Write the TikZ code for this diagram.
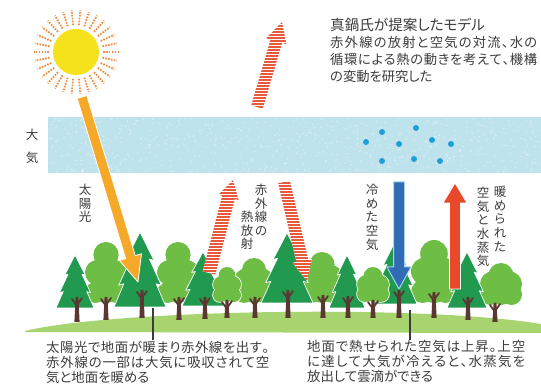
\documentclass[tikz,border=0pt]{standalone}
\usepackage{fontspec}
\setmainfont{Noto Sans CJK JP}[RawFeature=+palt]
\usetikzlibrary{calc}

\definecolor{inktext}{HTML}{3C3C3C}
\definecolor{aircol}{HTML}{BFE3EC}
\definecolor{vapour}{HTML}{1E9FD8}
\definecolor{sundisk}{HTML}{F6E21C}
\definecolor{sunrayc}{HTML}{F08A3C}
\definecolor{beamcol}{HTML}{F6A828}
\definecolor{irred}{HTML}{E8583A}
\definecolor{coldblue}{HTML}{2F6CB5}
\definecolor{coldedge}{HTML}{A4D6EE}
\definecolor{warmred}{HTML}{E9482A}
\definecolor{conifergreen}{HTML}{219A4F}
\definecolor{roundgreen}{HTML}{6EBE46}
\definecolor{barkcol}{HTML}{5A3730}
\definecolor{groundcol}{HTML}{A8D470}

% justified line of Japanese text: spread the characters over a fixed width
\makeatletter
\def\jspread#1{\jspread@#1\relax}
\def\jspread@#1{\ifx\relax#1\else#1\hfil\expandafter\jspread@\fi}
\makeatother
\newcommand\jline[2]{\hbox to #1{\jspread{#2}\unskip}}

% arrow outline from (name-start) to (name-tip)
\newcommand\arrowgeom[4]{%
  \coordinate (#1-h) at ($(#1-tip)!#4!(#1-start)$);
  \coordinate (#1-s1) at ($(#1-start)!#2!90:(#1-tip)$);
  \coordinate (#1-s2) at ($(#1-start)!#2!-90:(#1-tip)$);
  \coordinate (#1-b1) at ($(#1-h)!#2!90:(#1-tip)$);
  \coordinate (#1-b2) at ($(#1-h)!#2!-90:(#1-tip)$);
  \coordinate (#1-k1) at ($(#1-h)!#3!90:(#1-tip)$);
  \coordinate (#1-k2) at ($(#1-h)!#3!-90:(#1-tip)$);
}
\newcommand\arrowpoly[1]{(#1-s1) -- (#1-b1) -- (#1-k1) -- (#1-tip) -- (#1-k2) -- (#1-b2) -- (#1-s2) -- cycle}
% red/white striped infrared arrow: name, first stripe y, number of stripes
\newcommand\stripedarrow[3]{%
  \begin{scope}
    \clip \arrowpoly{#1};
    \fill[white] \arrowpoly{#1};
    \foreach \k [evaluate=\k as \yy using #2+3*\k] in {0,...,#3}
      \draw[irstripe] (150,\yy) -- (350,\yy);
  \end{scope}}
% conifer in three tiers: apex x, apex y, half width, height
\newcommand\conifer[4]{%
  \fill[coniferfill] (#1,#2)
    -- ({#1+0.54*#3},{#2+0.38*#4}) -- ({#1+0.36*#3},{#2+0.36*#4})
    -- ({#1+0.82*#3},{#2+0.71*#4}) -- ({#1+0.62*#3},{#2+0.69*#4})
    -- ({#1+#3},{#2+#4}) -- ({#1-#3},{#2+#4})
    -- ({#1-0.62*#3},{#2+0.69*#4}) -- ({#1-0.82*#3},{#2+0.71*#4})
    -- ({#1-0.36*#3},{#2+0.36*#4}) -- ({#1-0.54*#3},{#2+0.38*#4}) -- cycle;}
% rounded broadleaf crown: centre x, top, width, bottom, padding
\newcommand\roundblob[5]{%
  (#1,{#2+0.3*#3}) circle ({0.3*#3+#5})
  ({#1-0.2*#3},{(#2+#4)/2}) circle ({0.3*#3+#5})
  ({#1+0.2*#3},{(#2+#4)/2}) circle ({0.3*#3+#5})
  ({#1-0.25*#3},{#4-0.25*#3}) circle ({0.25*#3+#5})
  ({#1+0.25*#3},{#4-0.25*#3}) circle ({0.25*#3+#5})
  (#1,{#4-0.3*#3}) circle ({0.3*#3+#5})}
\newcommand\roundtree[4]{%
  \fill[white] \roundblob{#1}{#2}{#3}{#4}{0.8};
  \fill[roundgreen] \roundblob{#1}{#2}{#3}{#4}{0};}
% trunk with forked top: x, top, bottom
\newcommand\trunk[3]{%
  \fill[barkcol] ({#1-2.6},#3) -- ({#1-1.4},#2) -- ({#1+1.4},#2) -- ({#1+2.6},#3) -- cycle;
  \draw[branch] (#1,{#2+9}) -- ({#1-5},{#2+2});
  \draw[branch] (#1,{#2+8}) -- ({#1+5},{#2+1});}

\begin{document}
\begin{tikzpicture}[x=1pt,y=-1pt,
  vlabel/.style={font=\fontsize{12.5}{13.7}\selectfont, text=inktext, align=center, inner sep=0pt, anchor=north},
  note/.style={font=\fontsize{13.4}{15}\selectfont, text=inktext, align=left, inner sep=0pt, anchor=north west},
  irstripe/.style={draw=irred, line width=1.9pt},
  coniferfill/.style={fill=conifergreen, draw=white, line width=0.7pt, line join=round},
  branch/.style={draw=barkcol, line width=1.8pt, line cap=round},
  sunray/.style={draw=sunrayc, line width=1.8pt, dash pattern=on 1.6pt off 1.3pt},
  callout/.style={draw=inktext, line width=1.4pt}]
\useasboundingbox (0,0) rectangle (541,387);
\fill[white] (0,0) rectangle (541,387);

% atmosphere layer with a grainy texture and water vapour
\fill[aircol] (48,117) rectangle (541,173);
\pgfmathsetseed{42}
\foreach \i in {1,...,700}{
  \pgfmathsetmacro\gx{49+491*rnd}
  \pgfmathsetmacro\gy{118+54*rnd}
  \fill[white, opacity=0.45] (\gx,\gy) circle (0.75);}
\node[font=\fontsize{12.5}{23}\selectfont, text=inktext, align=center, inner sep=0pt, anchor=north] (atmo) at (32,128.5) {大\\気};
\foreach \p in {(366,142),(382,132),(399,144),(416,128),(432,140),(451,144),(382,161),(414,159),(440,161)}
  \fill[vapour] \p circle (3);

% sun
\coordinate (sunc) at (76,52);
\foreach \a in {0,12,...,348} \draw[sunray] ($(sunc)+(\a:27)$) -- ($(sunc)+(\a:42)$);
\fill[sundisk] (sunc) circle (23);

% ground and forest
\fill[groundcol] (25,331) .. controls (110,310) and (420,304) .. (541,324) -- (541,333) -- (25,332) -- cycle;
\roundtree{106}{242}{42}{303}
\roundtree{178}{242}{42}{303}
\roundtree{254}{258}{40}{303}
\roundtree{322}{252}{42}{303}
\roundtree{434}{240}{46}{303}
\roundtree{501}{263}{42}{305}
\conifer{75}{255}{19}{53}
\conifer{140}{232}{26}{75}
\conifer{203}{252}{21}{54}
\conifer{287}{233}{26}{70}
\conifer{347}{255}{18}{53}
\conifer{395}{242}{22}{62}
\conifer{467}{252}{20}{56}
\roundtree{227}{267}{28}{302}
\roundtree{373}{267}{32}{302}
\foreach \tx/\ttop/\tbot in {77/297/322,106/297/320,142/290/318,179/297/320,205/297/319,227/300/318,255/297/318,288/290/318,323/295/318,348/296/318,373/300/318,399/290/318,434/292/318,468/297/320,495/303/322}
  {\trunk{\tx}{\ttop}{\tbot}}

% sunlight
\coordinate (sunbeam-start) at (82,97);
\coordinate (sunbeam-tip) at (138,282);
\arrowgeom{sunbeam}{5pt}{11.5pt}{26pt}
\fill[beamcol, draw=white, line width=0.8pt, line join=round] \arrowpoly{sunbeam};

% infrared leaving to space
\coordinate (irout-start) at (257,107);
\coordinate (irout-tip) at (282,22);
\arrowgeom{irout}{6pt}{10.5pt}{20pt}
\stripedarrow{irout}{20}{31}

% infrared rising from the ground
\coordinate (irup-start) at (209,273);
\coordinate (irup-tip) at (233,180);
\arrowgeom{irup}{6.5pt}{10.5pt}{18pt}
\stripedarrow{irup}{178}{33}

% infrared returning to the ground
\coordinate (irdown-start) at (284,182);
\coordinate (irdown-tip) at (307,281);
\arrowgeom{irdown}{6pt}{10pt}{21pt}
\stripedarrow{irdown}{180}{35}

% cooled air sinking
\coordinate (cold-start) at (399,182);
\coordinate (cold-tip) at (399,289);
\arrowgeom{cold}{5.5pt}{12pt}{22pt}
\fill[coldblue, draw=coldedge, line width=1pt, line join=round] \arrowpoly{cold};

% warmed air and vapour rising
\coordinate (warm-start) at (455,289);
\coordinate (warm-tip) at (455,183);
\arrowgeom{warm}{5.5pt}{12pt}{20pt}
\fill[warmred, draw=white, line width=0.8pt, line join=round] \arrowpoly{warm};

% vertical labels
\node[vlabel] (lsun) at (85,183.7) {太\\陽\\光};
\node[vlabel] (lir1) at (261,183.7) {赤\\外\\線\\の};
\node[vlabel] (lir2) at (247,210.7) {熱\\放\\射};
\node[vlabel] (lcold) at (372,183.7) {冷\\め\\た\\空\\気};
\node[vlabel] (lwarm1) at (500,185.7) {暖\\め\\ら\\れ\\た};
\node[vlabel] (lwarm2) at (483,186.7) {空\\気\\と\\水\\蒸\\気};

% model description
\node[font=\fontsize{14.6}{18}\selectfont, text=inktext, inner sep=0pt, anchor=west] (title) at (330,25) {真鍋氏が提案したモデル};
\node[font=\fontsize{13.3}{17}\selectfont, text=inktext, align=left, inner sep=0pt, anchor=north west] (model) at (330,36.5)
  {\jline{207pt}{赤外線の放射と空気の対流、水の}\\\jline{207pt}{循環による熱の動きを考えて、機構}\\の変動を研究した};

% notes below the ground
\node[note] (noteleft) at (46,340.5) {\jline{223pt}{太陽光で地面が暖まり赤外線を出す。}\\\jline{223pt}{赤外線の一部は大気に吸収されて空}\\気と地面を暖める};
\node[note] (noteright) at (307,340.5) {\jline{218pt}{地面で熱せられた空気は上昇。上空}\\\jline{218pt}{に達して大気が冷えると、水蒸気を}\\放出して雲滴ができる};
\coordinate (gl) at (153,308);
\coordinate (gr) at (410,310);
\draw[callout] (gl) -- (gl |- noteleft.north);
\draw[callout] (gr) -- (gr |- noteright.north);
\end{tikzpicture}
\end{document}
